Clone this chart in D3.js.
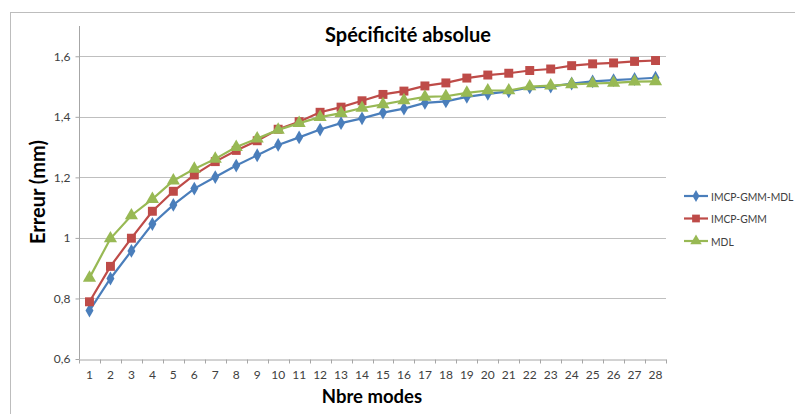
<!DOCTYPE html>
<html>
<head>
<meta charset="utf-8">
<script src="https://cdn.jsdelivr.net/npm/d3@7"></script>
<style>
  html, body { margin: 0; padding: 0; background: #fff; }
  svg { display: block; }
</style>
</head>
<body>
<svg id="chart" width="795" height="414"></svg>
<script>
const categories = d3.range(1, 29).map(String);
const seriesNames = ["IMCP-GMM-MDL", "IMCP-GMM", "MDL"];
const imcpGmmMdl = [0.76, 0.866, 0.957, 1.046, 1.109, 1.163, 1.201, 1.239, 1.273, 1.307, 1.332, 1.358, 1.379, 1.395, 1.414, 1.427, 1.446, 1.451, 1.466, 1.476, 1.484, 1.497, 1.500, 1.510, 1.517, 1.521, 1.525, 1.529];
const imcpGmm = [0.789, 0.906, 0.999, 1.088, 1.154, 1.208, 1.252, 1.289, 1.321, 1.359, 1.384, 1.415, 1.432, 1.453, 1.474, 1.485, 1.502, 1.512, 1.528, 1.538, 1.544, 1.553, 1.558, 1.569, 1.575, 1.578, 1.583, 1.586];
const mdl = [0.868, 0.998, 1.074, 1.128, 1.189, 1.228, 1.261, 1.300, 1.328, 1.357, 1.379, 1.399, 1.412, 1.429, 1.441, 1.454, 1.466, 1.468, 1.479, 1.487, 1.487, 1.500, 1.503, 1.507, 1.510, 1.512, 1.516, 1.517];
const yTicks = [0.6, 0.8, 1.0, 1.2, 1.4, 1.6];
const yTickLabels = ["0,6", "0,8", "1", "1,2", "1,4", "1,6"];
const titleText = "Spécificité absolue";
const xTitle = "Nbre modes";
const yTitle = "Erreur (mm)";

const colors = ["#4a7ebb", "#be4b48", "#98b954"];
const shapes = [d3.symbolDiamond, d3.symbolSquare, d3.symbolTriangle];
const symSizes = [55, 80, 75];
const seriesValues = [imcpGmmMdl, imcpGmm, mdl];

const svg = d3.select("#chart");
const font = "Lato, 'Open Sans', sans-serif";

// outer frame
svg.append("rect").attr("x", 10.5).attr("y", 12.5).attr("width", 800).attr("height", 420)
  .attr("fill", "none").attr("stroke", "#bdbdbd").attr("stroke-width", 1);

const pLeft = 79, pRight = 666, pTop = 26, pBottom = 359;
const x = d3.scaleBand().domain(categories).range([pLeft, pRight]).padding(0);
const y = d3.scaleLinear().domain([0.6, 1.7]).range([pBottom, pTop]);

// gridlines
svg.append("g").selectAll("line").data(yTicks.filter(d => d > 0.6)).join("line")
  .attr("x1", pLeft).attr("x2", pRight)
  .attr("y1", d => Math.round(y(d)) + 0.5).attr("y2", d => Math.round(y(d)) + 0.5)
  .attr("stroke", "#bfbfbf").attr("stroke-width", 1);

// y axis
const yAxis = d3.axisLeft(y).tickValues(yTicks).tickSize(4)
  .tickFormat((d, i) => yTickLabels[i]);
const gy = svg.append("g").attr("transform", `translate(${pLeft + 0.5},0)`).call(yAxis);
gy.select(".domain").attr("stroke", "#a6a6a6").attr("d", `M0,${pTop}V${pBottom}`);
gy.selectAll(".tick line").attr("stroke", "#a6a6a6");
gy.selectAll(".tick text").attr("font-family", font).attr("font-size", 12).attr("fill", "#404040").attr("x", -9);

// x axis
const xAxis = d3.axisBottom(x).tickSize(0);
const gx = svg.append("g").attr("transform", `translate(0,${pBottom + 0.5})`).call(xAxis);
gx.select(".domain").attr("stroke", "#a6a6a6");
gx.selectAll(".tick text").attr("font-family", font).attr("font-size", 12).attr("fill", "#404040").attr("y", 11);
// category boundary ticks
const bounds = categories.map(c => x(c)).concat([pRight]);
gx.append("g").selectAll("line").data(bounds).join("line")
  .attr("x1", d => Math.round(d) + 0.5).attr("x2", d => Math.round(d) + 0.5)
  .attr("y1", 0).attr("y2", 4).attr("stroke", "#a6a6a6");

// series
const line = d3.line().x((d, i) => x(categories[i]) + x.bandwidth() / 2).y(d => y(d));
seriesValues.forEach((vals, si) => {
  svg.append("path").datum(vals).attr("d", line)
    .attr("fill", "none").attr("stroke", colors[si]).attr("stroke-width", 2.2);
  svg.append("g").selectAll("path").data(vals).join("path")
    .attr("transform", (d, i) => `translate(${x(categories[i]) + x.bandwidth() / 2},${y(d)})`)
    .attr("d", d3.symbol().type(shapes[si]).size(symSizes[si]))
    .attr("fill", colors[si]);
});

// title
svg.append("text").attr("x", 408).attr("y", 42).attr("text-anchor", "middle")
  .attr("font-family", font).attr("font-weight", "bold").attr("font-size", 20).attr("fill", "#000")
  .text(titleText);
// x title
svg.append("text").attr("x", 372).attr("y", 403).attr("text-anchor", "middle")
  .attr("font-family", font).attr("font-weight", "bold").attr("font-size", 18.5).attr("fill", "#000")
  .text(xTitle);
// y title
svg.append("text").attr("transform", "translate(45,192) rotate(-90)").attr("text-anchor", "middle")
  .attr("font-family", font).attr("font-weight", "bold").attr("font-size", 20).attr("fill", "#000")
  .text(yTitle);

// legend
const legendY = [196, 218.5, 241];
const lg = svg.append("g");
seriesNames.forEach((name, si) => {
  const g = lg.append("g").attr("transform", `translate(684,${legendY[si]})`);
  g.append("line").attr("x1", 0).attr("x2", 24).attr("y1", 0).attr("y2", 0)
    .attr("stroke", colors[si]).attr("stroke-width", 2.2);
  g.append("path").attr("transform", "translate(12,0)")
    .attr("d", d3.symbol().type(shapes[si]).size(symSizes[si] * 0.75)).attr("fill", colors[si]);
  g.append("text").attr("transform", "translate(27,4.5) scale(0.86,1)")
    .attr("font-family", font).attr("font-size", 12)
    .attr("fill", "#404040").text(name);
});
</script>
</body>
</html>
